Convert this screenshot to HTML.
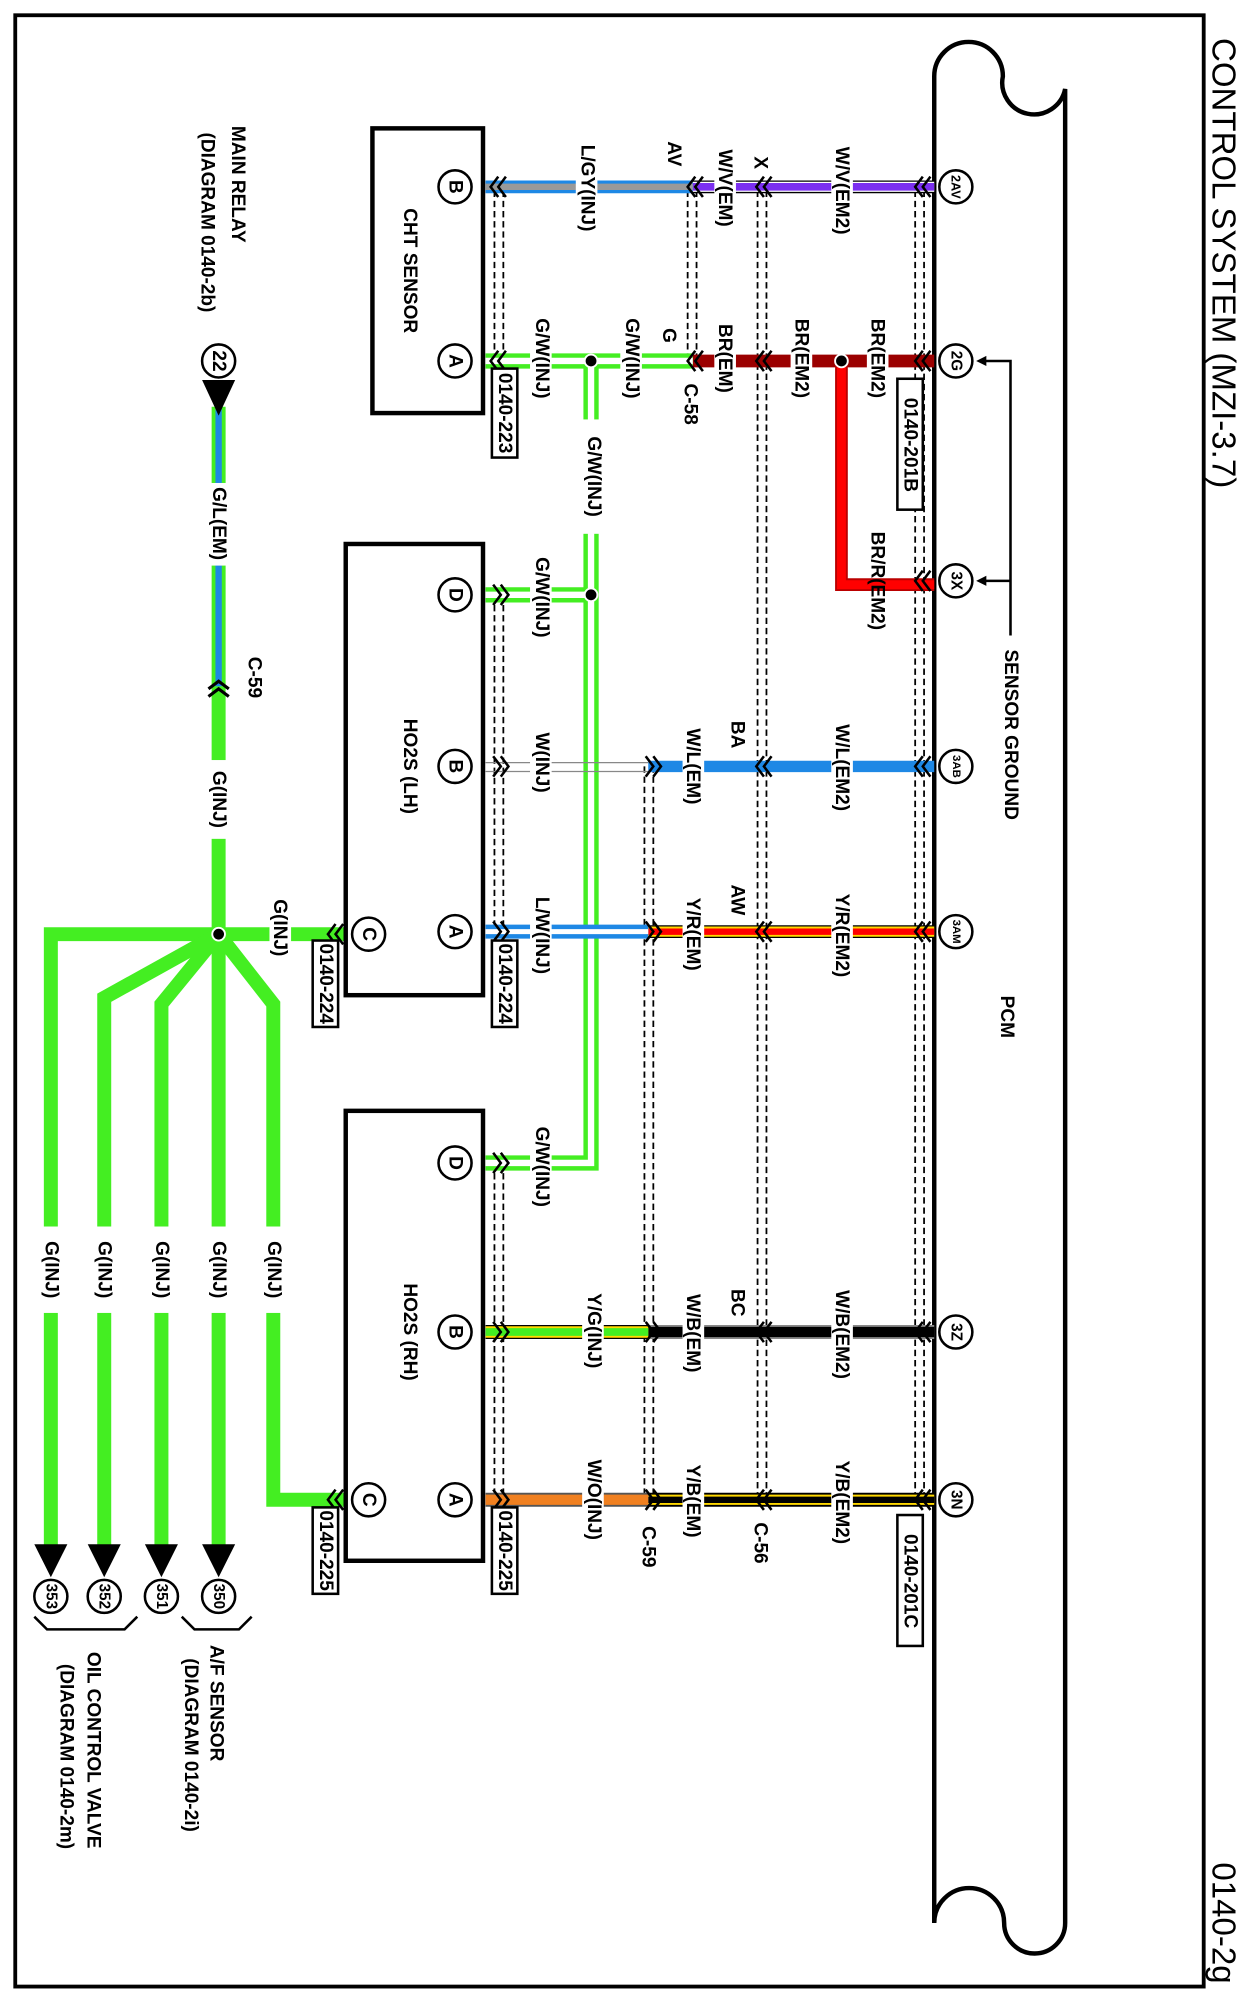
<!DOCTYPE html>
<html><head><meta charset="utf-8"><style>
html,body{margin:0;padding:0;background:#fff}
svg{display:block}
text{font-family:"Liberation Sans",Arial,sans-serif;font-weight:bold;font-size:15px;fill:#000;text-anchor:middle;dominant-baseline:central}
.n{font-weight:bold}
.t{font-weight:normal}
.pin{font-size:12px;font-weight:bold}
.sh{stroke:#000;stroke-width:1.4;stroke-dasharray:5,3;fill:none}
.ch{fill:none;stroke:#000;stroke-width:2}
</style></head><body>
<svg width="1252" height="1998" viewBox="0 0 985 1572" preserveAspectRatio="none" xmlns="http://www.w3.org/2000/svg">
<rect x="12" y="12" width="935" height="1551" fill="none" stroke="#000" stroke-width="3"/>
<text class="t" style="font-size:26px" transform="translate(962,207) rotate(90)">CONTROL SYSTEM (MZI-3.7)</text>
<text class="t" style="font-size:26px" transform="translate(962,1513) rotate(90)">0140-2g</text>

<!-- PCM -->
<path d="M735,1513 V60 A27,27 0 0 1 789,60 A23,23 0 0 0 838,70 V1513 A24,24 0 0 1 790,1513 A27,27 0 0 0 735,1513" fill="none" stroke="#000" stroke-width="3.5"/>
<text class="n" transform="translate(792,800) rotate(90)">PCM</text>
<text class="n" transform="translate(795,578) rotate(90)">SENSOR GROUND</text>
<path d="M795,500 V284 H772 M795,457 H772" fill="none" stroke="#000" stroke-width="2"/>
<polygon points="768,284 776,280 776,288"/><polygon points="768,457 776,453 776,461"/>

<!-- shields -->
<g class="sh">
<line x1="720" y1="150" x2="720" y2="1180"/><line x1="727" y1="150" x2="727" y2="1180"/>
<line x1="596" y1="150" x2="596" y2="1180"/><line x1="603" y1="150" x2="603" y2="1180"/>
<line x1="541" y1="150" x2="541" y2="284"/><line x1="548" y1="150" x2="548" y2="284"/>
<line x1="507" y1="603" x2="507" y2="1180"/><line x1="514" y1="603" x2="514" y2="1180"/>
<line x1="389" y1="150" x2="389" y2="284"/><line x1="396" y1="150" x2="396" y2="284"/>
<line x1="389" y1="468" x2="389" y2="733"/><line x1="396" y1="468" x2="396" y2="733"/>
<line x1="389" y1="915" x2="389" y2="1180"/><line x1="396" y1="915" x2="396" y2="1180"/>
</g>

<!-- row 147 -->
<line x1="545" y1="147" x2="735" y2="147" stroke="#000" stroke-width="10"/>
<line x1="545" y1="147" x2="735" y2="147" stroke="#fff" stroke-width="8"/>
<line x1="545" y1="147" x2="735" y2="147" stroke="#7b2ff0" stroke-width="6"/>
<line x1="382" y1="147" x2="545" y2="147" stroke="#1e88e5" stroke-width="10"/>
<line x1="382" y1="147" x2="545" y2="147" stroke="#999" stroke-width="5"/>
<!-- row 284 -->
<line x1="545" y1="284" x2="735" y2="284" stroke="#9b0000" stroke-width="10"/>
<path d="M662,284 V460 H735" fill="none" stroke="#b00" stroke-width="10"/>
<path d="M662,284 V460 H735" fill="none" stroke="#f00" stroke-width="7"/>
<!-- G/W -->
<g fill="none" stroke="#44ee22" stroke-width="12">
<path d="M382,284 H545"/><path d="M465,284 V915 H382"/><path d="M465,468 H382"/></g>
<g fill="none" stroke="#fff" stroke-width="5">
<path d="M382,284 H545"/><path d="M465,284 V915 H382"/><path d="M465,468 H382"/></g>
<!-- row 603 -->
<line x1="510" y1="603" x2="735" y2="603" stroke="#1e88e5" stroke-width="9"/>
<line x1="382" y1="600" x2="510" y2="600" stroke="#888" stroke-width="1"/>
<line x1="382" y1="607" x2="510" y2="607" stroke="#888" stroke-width="1"/>
<!-- row 733 -->
<line x1="510" y1="733" x2="735" y2="733" stroke="#000" stroke-width="10"/>
<line x1="510" y1="733" x2="735" y2="733" stroke="#ffd800" stroke-width="8"/>
<line x1="510" y1="733" x2="735" y2="733" stroke="#f00" stroke-width="5"/>
<line x1="382" y1="733" x2="510" y2="733" stroke="#1e88e5" stroke-width="11"/>
<line x1="382" y1="733" x2="510" y2="733" stroke="#fff" stroke-width="4"/>
<!-- row 1048 -->
<line x1="510" y1="1048" x2="735" y2="1048" stroke="#888" stroke-width="11"/>
<line x1="510" y1="1048" x2="735" y2="1048" stroke="#000" stroke-width="8"/>
<line x1="382" y1="1048" x2="510" y2="1048" stroke="#000" stroke-width="11"/>
<line x1="382" y1="1048" x2="510" y2="1048" stroke="#ffd800" stroke-width="9"/>
<line x1="382" y1="1048" x2="510" y2="1048" stroke="#44ee22" stroke-width="6"/>
<!-- row 1180 -->
<line x1="510" y1="1180" x2="735" y2="1180" stroke="#000" stroke-width="11"/>
<line x1="510" y1="1180" x2="735" y2="1180" stroke="#ffd800" stroke-width="8"/>
<line x1="510" y1="1180" x2="735" y2="1180" stroke="#000" stroke-width="5"/>
<line x1="382" y1="1180" x2="510" y2="1180" stroke="#555" stroke-width="11"/>
<line x1="382" y1="1180" x2="510" y2="1180" stroke="#f08020" stroke-width="8"/>

<!-- G(INJ) power -->
<line x1="172" y1="320" x2="172" y2="540" stroke="#44ee22" stroke-width="11"/>
<line x1="172" y1="320" x2="172" y2="540" stroke="#1e88e5" stroke-width="5"/>
<g fill="none" stroke="#44ee22" stroke-width="11" stroke-linejoin="miter">
<path d="M172,540 V1220"/><path d="M172,735 H272"/><path d="M172,735 H40 V1220"/>
<path d="M172,735 L82,785 V1220"/><path d="M172,735 L127,790 V1220"/>
<path d="M172,735 L215,790 V1180 H272"/></g>
<circle cx="172" cy="735" r="5" fill="#000" stroke="#fff" stroke-width="1.5"/>
<circle cx="465" cy="284" r="5" fill="#000" stroke="#fff" stroke-width="1.5"/>
<circle cx="465" cy="468" r="5" fill="#000" stroke="#fff" stroke-width="1.5"/>
<circle cx="662" cy="284" r="5" fill="#000" stroke="#fff" stroke-width="1.5"/>

<!-- label gaps -->
<g fill="#fff">
<rect x="654" y="105" width="17" height="90"/><rect x="562" y="105" width="17" height="85"/><rect x="453" y="100" width="17" height="95"/>
<rect x="682" y="240" width="17" height="85"/><rect x="622" y="240" width="17" height="85"/><rect x="562" y="245" width="17" height="75"/>
<rect x="488" y="240" width="17" height="85"/><rect x="417" y="240" width="17" height="85"/><rect x="458" y="330" width="17" height="90"/>
<rect x="417" y="430" width="17" height="80"/><rect x="417" y="875" width="17" height="85"/>
<rect x="654" y="560" width="17" height="88"/><rect x="537" y="560" width="17" height="85"/><rect x="417" y="565" width="17" height="70"/>
<rect x="654" y="693" width="17" height="85"/><rect x="537" y="695" width="17" height="80"/><rect x="417" y="693" width="17" height="85"/>
<rect x="654" y="1005" width="17" height="90"/><rect x="537" y="1008" width="17" height="82"/><rect x="458" y="1005" width="17" height="85"/>
<rect x="654" y="1140" width="17" height="85"/><rect x="537" y="1140" width="17" height="82"/><rect x="458" y="1135" width="17" height="90"/>
<rect x="163" y="380" width="18" height="65"/><rect x="163" y="598" width="18" height="62"/><rect x="212" y="700" width="17" height="60"/>
<rect x="31" y="965" width="18" height="68"/><rect x="73" y="965" width="18" height="68"/><rect x="118" y="965" width="18" height="68"/><rect x="163" y="965" width="18" height="68"/><rect x="206" y="965" width="18" height="68"/>
</g>

<!-- chevrons -->
<g class="ch">
<path d="M726,139 l-6,8 l6,8 M732,139 l-6,8 l6,8"/><path d="M726,276 l-6,8 l6,8 M732,276 l-6,8 l6,8"/>
<path d="M726,449 l-6,8 l6,8 M732,449 l-6,8 l6,8"/><path d="M726,595 l-6,8 l6,8 M732,595 l-6,8 l6,8"/>
<path d="M726,725 l-6,8 l6,8 M732,725 l-6,8 l6,8"/><path d="M726,1040 l-6,8 l6,8 M732,1040 l-6,8 l6,8"/>
<path d="M726,1172 l-6,8 l6,8 M732,1172 l-6,8 l6,8"/>
<path d="M601,139 l-6,8 l6,8 M607,139 l-6,8 l6,8"/><path d="M601,276 l-6,8 l6,8 M607,276 l-6,8 l6,8"/>
<path d="M601,595 l-6,8 l6,8 M607,595 l-6,8 l6,8"/><path d="M601,725 l-6,8 l6,8 M607,725 l-6,8 l6,8"/>
<path d="M601,1040 l-6,8 l6,8 M607,1040 l-6,8 l6,8"/><path d="M601,1172 l-6,8 l6,8 M607,1172 l-6,8 l6,8"/>
<path d="M547,139 l-6,8 l6,8 M553,139 l-6,8 l6,8"/><path d="M547,276 l-6,8 l6,8 M553,276 l-6,8 l6,8"/>
<path d="M508,595 l6,8 l-6,8 M514,595 l6,8 l-6,8"/><path d="M508,725 l6,8 l-6,8 M514,725 l6,8 l-6,8"/>
<path d="M508,1040 l6,8 l-6,8 M514,1040 l6,8 l-6,8"/><path d="M508,1172 l6,8 l-6,8 M514,1172 l6,8 l-6,8"/>
<path d="M392,139 l-6,8 l6,8 M398,139 l-6,8 l6,8"/><path d="M392,276 l-6,8 l6,8 M398,276 l-6,8 l6,8"/>
<path d="M388,460 l6,8 l-6,8 M394,460 l6,8 l-6,8"/><path d="M388,595 l6,8 l-6,8 M394,595 l6,8 l-6,8"/>
<path d="M388,725 l6,8 l-6,8 M394,725 l6,8 l-6,8"/><path d="M388,907 l6,8 l-6,8 M394,907 l6,8 l-6,8"/>
<path d="M388,1040 l6,8 l-6,8 M394,1040 l6,8 l-6,8"/><path d="M388,1172 l6,8 l-6,8 M394,1172 l6,8 l-6,8"/>
<path d="M164,542 l8,-6 l8,6 M164,548 l8,-6 l8,6" stroke-width="2.5"/>
<path d="M264,727 l-6,8 l6,8 M270,727 l-6,8 l6,8"/><path d="M264,1172 l-6,8 l6,8 M270,1172 l-6,8 l6,8"/>
</g>

<!-- PCM pins -->
<g fill="#fff" stroke="#000" stroke-width="2">
<circle cx="752" cy="147" r="13"/><circle cx="752" cy="284" r="13"/><circle cx="752" cy="457" r="13"/>
<circle cx="752" cy="603" r="13"/><circle cx="752" cy="733" r="13"/><circle cx="752" cy="1048" r="13"/><circle cx="752" cy="1180" r="13"/>
</g>
<text class="pin" transform="translate(752,147) rotate(90)" style="font-size:10px">2AV</text>
<text class="pin" transform="translate(752,284) rotate(90)">2G</text>
<text class="pin" transform="translate(752,457) rotate(90)">3X</text>
<text class="pin" transform="translate(752,603) rotate(90)" style="font-size:9px">3AB</text>
<text class="pin" transform="translate(752,733) rotate(90)" style="font-size:9px">3AM</text>
<text class="pin" transform="translate(752,1048) rotate(90)">3Z</text>
<text class="pin" transform="translate(752,1180) rotate(90)">3N</text>

<!-- components -->
<g fill="none" stroke="#000" stroke-width="3.5">
<rect x="293" y="101" width="87" height="224"/>
<rect x="272" y="428" width="108" height="355"/>
<rect x="272" y="874" width="108" height="354"/>
</g>
<g fill="#fff" stroke="#000" stroke-width="2">
<circle cx="358" cy="147" r="13"/><circle cx="358" cy="284" r="13"/>
<circle cx="358" cy="468" r="13"/><circle cx="358" cy="603" r="13"/><circle cx="358" cy="733" r="13"/><circle cx="290" cy="735" r="13"/>
<circle cx="358" cy="915" r="13"/><circle cx="358" cy="1048" r="13"/><circle cx="358" cy="1180" r="13"/><circle cx="290" cy="1180" r="13"/>
</g>
<g>
<text class="n" transform="translate(358,147) rotate(90)">B</text><text class="n" transform="translate(358,284) rotate(90)">A</text>
<text class="n" transform="translate(358,468) rotate(90)">D</text><text class="n" transform="translate(358,603) rotate(90)">B</text>
<text class="n" transform="translate(358,733) rotate(90)">A</text><text class="n" transform="translate(290,735) rotate(90)">C</text>
<text class="n" transform="translate(358,915) rotate(90)">D</text><text class="n" transform="translate(358,1048) rotate(90)">B</text>
<text class="n" transform="translate(358,1180) rotate(90)">A</text><text class="n" transform="translate(290,1180) rotate(90)">C</text>
<text class="n" transform="translate(322,213) rotate(90)">CHT SENSOR</text>
<text class="n" transform="translate(322,603) rotate(90)">HO2S (LH)</text>
<text class="n" transform="translate(322,1048) rotate(90)">HO2S (RH)</text>
</g>

<!-- connector boxes -->
<g fill="#fff" stroke="#000" stroke-width="2">
<rect x="706" y="298" width="20" height="103"/><rect x="706" y="1192" width="20" height="103"/>
<rect x="387" y="290" width="20" height="70"/><rect x="387" y="740" width="20" height="68"/><rect x="387" y="1186" width="20" height="68"/>
<rect x="246" y="740" width="20" height="68"/><rect x="246" y="1186" width="20" height="68"/>
</g>
<g>
<text class="n" transform="translate(716,350) rotate(90)">0140-201B</text>
<text class="n" transform="translate(716,1244) rotate(90)">0140-201C</text>
<text class="n" transform="translate(397,325) rotate(90)">0140-223</text>
<text class="n" transform="translate(397,774) rotate(90)">0140-224</text>
<text class="n" transform="translate(397,1220) rotate(90)">0140-225</text>
<text class="n" transform="translate(256,774) rotate(90)">0140-224</text>
<text class="n" transform="translate(256,1220) rotate(90)">0140-225</text>
</g>

<!-- wire labels -->
<text transform="translate(662,150) rotate(90)">W/V(EM2)</text>
<text transform="translate(598,128) rotate(90)">X</text>
<text transform="translate(570,148) rotate(90)">W/V(EM)</text>
<text transform="translate(530,121) rotate(90)">AV</text>
<text transform="translate(462,148) rotate(90)">L/GY(INJ)</text>
<text transform="translate(690,282) rotate(90)">BR(EM2)</text>
<text transform="translate(630,282) rotate(90)">BR(EM2)</text>
<text transform="translate(570,282) rotate(90)">BR(EM)</text>
<text transform="translate(526,264) rotate(90)">G</text>
<text transform="translate(543,318) rotate(90)">C-58</text>
<text transform="translate(497,282) rotate(90)">G/W(INJ)</text>
<text transform="translate(426,282) rotate(90)">G/W(INJ)</text>
<text transform="translate(467,375) rotate(90)">G/W(INJ)</text>
<text transform="translate(690,457) rotate(90)">BR/R(EM2)</text>
<text transform="translate(426,470) rotate(90)">G/W(INJ)</text>
<text transform="translate(426,918) rotate(90)">G/W(INJ)</text>
<text transform="translate(662,604) rotate(90)">W/L(EM2)</text>
<text transform="translate(580,578) rotate(90)">BA</text>
<text transform="translate(545,603) rotate(90)">W/L(EM)</text>
<text transform="translate(426,600) rotate(90)">W(INJ)</text>
<text transform="translate(662,736) rotate(90)">Y/R(EM2)</text>
<text transform="translate(580,708) rotate(90)">AW</text>
<text transform="translate(545,735) rotate(90)">Y/R(EM)</text>
<text transform="translate(426,736) rotate(90)">L/W(INJ)</text>
<text transform="translate(662,1050) rotate(90)">W/B(EM2)</text>
<text transform="translate(580,1025) rotate(90)">BC</text>
<text transform="translate(545,1049) rotate(90)">W/B(EM)</text>
<text transform="translate(467,1047) rotate(90)">Y/G(INJ)</text>
<text transform="translate(662,1182) rotate(90)">Y/B(EM2)</text>
<text transform="translate(598,1214) rotate(90)">C-56</text>
<text transform="translate(545,1181) rotate(90)">Y/B(EM)</text>
<text transform="translate(510,1217) rotate(90)">C-59</text>
<text transform="translate(467,1180) rotate(90)">W/O(INJ)</text>
<text transform="translate(172,412) rotate(90)">G/L(EM)</text>
<text transform="translate(200,533) rotate(90)">C-59</text>
<text transform="translate(172,629) rotate(90)">G(INJ)</text>
<text transform="translate(220,730) rotate(90)">G(INJ)</text>
<text transform="translate(40,999) rotate(90)">G(INJ)</text>
<text transform="translate(82,999) rotate(90)">G(INJ)</text>
<text transform="translate(127,999) rotate(90)">G(INJ)</text>
<text transform="translate(172,999) rotate(90)">G(INJ)</text>
<text transform="translate(215,999) rotate(90)">G(INJ)</text>

<!-- main relay -->
<circle cx="172" cy="284" r="13" fill="#fff" stroke="#000" stroke-width="2"/>
<text class="n" transform="translate(172,284) rotate(90)">22</text>
<polygon points="159,299 185,299 172,327"/>
<text transform="translate(187,145) rotate(90)" class="n">MAIN RELAY</text>
<text transform="translate(163,175) rotate(90)" class="n">(DIAGRAM 0140-2b)</text>

<!-- bottom terminals -->
<g>
<polygon points="27,1215 53,1215 40,1241"/><polygon points="69,1215 95,1215 82,1241"/>
<polygon points="114,1215 140,1215 127,1241"/><polygon points="159,1215 185,1215 172,1241"/>
</g>
<g fill="#fff" stroke="#000" stroke-width="2">
<circle cx="40" cy="1256" r="13"/><circle cx="82" cy="1256" r="13"/><circle cx="127" cy="1256" r="13"/><circle cx="172" cy="1256" r="13"/>
</g>
<text class="pin" transform="translate(40,1256) rotate(90)">353</text>
<text class="pin" transform="translate(82,1256) rotate(90)">352</text>
<text class="pin" transform="translate(127,1256) rotate(90)">351</text>
<text class="pin" transform="translate(172,1256) rotate(90)">350</text>
<path d="M27,1272 L37,1282 H98 L108,1272 M143,1272 L153,1282 H188 L198,1272" fill="none" stroke="#000" stroke-width="2"/>
<text transform="translate(170,1340) rotate(90)" class="n">A/F SENSOR</text>
<text transform="translate(150,1373) rotate(90)" class="n">(DIAGRAM 0140-2i)</text>
<text transform="translate(73,1377) rotate(90)" class="n">OIL CONTROL VALVE</text>
<text transform="translate(52,1382) rotate(90)" class="n">(DIAGRAM 0140-2m)</text>
</svg>
</body></html>
